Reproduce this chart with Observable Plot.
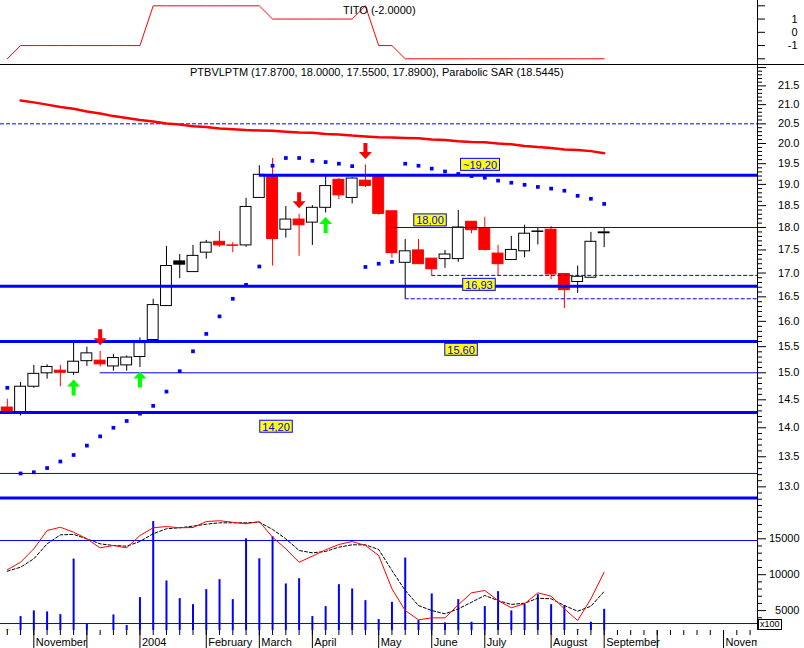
<!DOCTYPE html>
<html>
<head>
<meta charset="utf-8">
<script src="https://cdn.jsdelivr.net/npm/d3@7"></script>
<script src="https://cdn.jsdelivr.net/npm/@observablehq/plot@0.6"></script>
<style>
  html, body { margin: 0; padding: 0; background: #fff; }
  #chart { position: relative; width: 804px; height: 648px; background: #fff; overflow: hidden;
           font-family: "Liberation Sans", Arial, sans-serif; }
  .txt { position: absolute; font-size: 11px; line-height: 13px; white-space: nowrap; color: #000; }
  .sep { position: absolute; left: 0; top: 64px; width: 804px; height: 1px; background: #000; }
  .x100 { position: absolute; left: 758px; top: 619px; font-size: 9px; line-height: 9px;
          border: 1px solid #000; padding: 0 1px; background: #fff; }
</style>
</head>
<body>
<div id="chart"></div>
<script>
// ---------------- DATA (weekly, week 0 = 20 Oct 2003) ----------------
const open  = [14.36,14.28,14.74,14.99,15.04,15.00,15.22,15.23,15.12,15.14,
               15.30,15.63,16.31,17.25,17.02,17.44,17.68,17.60,17.60,18.68,
               19.20,17.95,18.18,18.11,18.45,19.11,18.68,19.09,19.20,18.37,
               17.22,17.49,17.31,17.30,17.30,18.13,17.98,17.42,17.28,17.47,
               17.90,17.95,16.98,16.81,16.90,17.87];
const high  = [14.51,14.82,15.14,15.15,15.14,15.58,15.49,15.41,15.35,15.32,
               15.67,16.45,17.58,17.40,17.60,17.71,17.91,17.66,18.67,19.45,
               19.63,18.48,18.30,18.50,19.20,19.14,19.16,19.47,19.20,18.37,
               17.73,17.73,17.31,17.49,18.39,18.13,18.23,17.60,17.80,18.05,
               18.00,18.02,16.98,17.15,17.89,18.00];
const low   = [14.29,14.21,14.71,14.88,14.74,14.95,15.12,15.11,15.03,15.03,
               15.10,15.62,16.30,16.88,17.02,17.30,17.56,17.44,17.56,18.68,
               17.15,17.76,17.36,17.60,18.33,18.64,18.54,18.92,18.28,17.32,
               16.46,17.19,16.95,17.10,17.23,17.86,17.48,16.94,17.28,17.33,
               17.61,16.86,16.26,16.57,16.90,17.55];
const close = [14.29,14.74,14.98,15.11,15.00,15.21,15.37,15.16,15.28,15.29,
               15.57,16.33,17.15,17.18,17.37,17.66,17.60,17.59,18.47,19.23,
               17.74,18.18,18.05,18.45,18.96,18.74,19.14,18.96,18.31,17.43,
               17.47,17.19,17.08,17.40,18.00,17.94,17.50,17.19,17.50,17.86,
               17.91,16.97,16.64,16.92,17.68,17.89];
const sar   = [14.72,13.22,13.24,13.31,13.42,13.53,13.69,13.85,14.00,14.12,
               14.25,14.39,14.65,15.03,15.41,15.75,16.10,16.46,16.75,17.14,
               19.45,19.64,19.64,19.57,19.54,19.50,19.44,17.13,17.20,17.24,
               19.50,19.45,19.38,19.31,19.25,19.20,19.16,19.09,19.04,18.99,
               18.94,18.90,18.85,18.73,18.66,18.54];
// long moving average, weeks 1..45
const movingAvg = [21.11,21.06,21.00,20.94,20.89,20.82,20.77,20.70,20.65,20.60,
                   20.56,20.51,20.48,20.44,20.42,20.38,20.36,20.34,20.33,20.32,
                   20.30,20.28,20.27,20.24,20.23,20.20,20.18,20.16,20.15,20.14,
                   20.13,20.10,20.09,20.06,20.04,20.03,20.00,19.98,19.94,19.91,
                   19.89,19.85,19.84,19.81,19.76];
const volume = [2360,4170,4960,4820,4440,12180,3150,2240,4400,2920,
                6810,17400,9130,6670,5830,7920,9310,6530,15000,12220,
                15280,8710,9440,4170,5560,8610,8010,6390,3750,6150,
                12320,3610,7320,3290,6530,3380,5560,7640,4960,5880,
                7220,5830,5690,2360,3380,5180];
const stochK = [58.8,64.3,74.0,87.2,89.6,86.0,81.2,74.7,76.4,74.7,
                83.6,89.2,90.1,89.2,89.4,93.7,94.3,93.2,92.1,93.7,
                82.4,74.0,64.3,68.7,73.3,77.1,79.3,76.4,69.2,45.1,
                29.4,22.7,24.1,24.1,33.5,42.2,43.9,36.6,31.4,34.3,
                42.2,39.8,30.6,22.2,37.9,57.1];
const stochD = [57.8,60.7,66.8,77.6,84.1,84.4,81.2,77.6,76.4,75.9,
                79.3,84.9,88.5,89.2,90.4,91.8,92.8,92.8,92.8,93.2,
                88.0,81.2,72.8,71.1,72.1,75.2,76.9,76.9,73.5,58.3,
                43.9,33.0,29.4,27.0,30.6,35.4,40.3,36.6,33.8,34.7,
                38.3,37.9,33.0,28.9,32.5,43.2];
const stochLevels = [80, 20];
const tito = [-2,-1,-1,-1,-1,-1,-1,-1,-1,-1,
              -1, 2, 2, 2, 2, 2, 2, 2, 2, 2,
               1, 1, 1, 1, 1, 1, 1, 2,-1,-1,
              -2,-2,-2,-2,-2,-2,-2,-2,-2,-2,
              -2,-2,-2,-2,-2,-2];
const buyWeeks  = [5, 10, 24];
const sellWeeks = [7, 22, 27];

// horizontal levels: value, first week (null = whole chart), kind
const levelValues = [20.50, 19.22, 18.00, 16.95, 16.72, 16.46, 15.60, 15.00, 14.27, 13.22, 12.82];
const levelStart  = [null,  19,    29,    32,    null,  30,    null,  7,     null,  null,  null];
const levelKind   = ["stop","support","trend","stop","support","stop","support","trend","support","trend","support"];

const labelTexts  = ["~19,20", "18,00", "16,93", "15,60", "14,20"];
const labelWeeks  = [35.64, 31.87, 35.56, 34.21, 20.26];
const labelPrices = [19.46, 18.15, 16.74, 15.43, 14.01];

const priceTicks  = [13.0,13.5,14.0,14.5,15.0,15.5,16.0,16.5,17.0,17.5,18.0,18.5,19.0,19.5,20.0,20.5,21.0,21.5];
const volumeTicks = [5000, 10000, 15000];
const titoTicks   = [-1, 0, 1];
const monthWeeks  = [2, 6, 10, 15, 19, 23, 28, 32, 36, 41, 45, 49, 54];
const monthLabels = ["November", "", "2004", "February", "March", "April", "May", "June", "July", "August", "September", "", "November"];

const titleText = "PTBVLPTM (17.8700, 18.0000, 17.5500, 17.8900), Parabolic SAR (18.5445)";
const titoText  = "TITO (-2.0000)";

// ---------------- CHART ----------------
const BLUE = "#0000ff", RED = "#ff0000", GREEN = "#00ff00", YELLOW = "#ffff00";
const xMin = -0.513, xMax = 56.56;
const W = 804, MR = 47;
const font = { fontFamily: '"Liberation Sans", Arial, sans-serif', fontSize: "11px", maxWidth: "none", background: "transparent", overflow: "visible" };
const chart = document.getElementById("chart");
const weeks = d3.range(open.length);

function place(node, top, width) {
  const d = document.createElement("div");
  d.style.cssText = `position:absolute;left:0;top:${top}px;width:${width || W}px;overflow:hidden;`;
  d.appendChild(node);
  chart.appendChild(d);
  return node;
}

// --- TITO panel
place(Plot.plot({
  width: W, height: 64, marginLeft: 0, marginRight: MR, marginTop: 0, marginBottom: 0,
  x: { domain: [xMin, xMax], axis: null },
  y: { domain: [-2.43, 2.4] },
  style: font,
  marks: [
    Plot.axisY([-2, -1, 0, 1, 2], { anchor: "right", tickSize: 7, tickFormat: () => "", label: null }),
    Plot.axisY(titoTicks, { anchor: "right", tickSize: 0, tickPadding: 40, textAnchor: "end", tickFormat: d => String(d), label: null }),
    Plot.ruleX([xMax], { stroke: "black" }),
    Plot.line(weeks, { x: d => d, y: i => tito[i], stroke: RED, strokeWidth: 1 })
  ]
}), 0);

// --- Price panel
const candles = weeks.map(i => ({ i, o: open[i], h: high[i], l: low[i], c: close[i], prev: i ? close[i - 1] : open[i] }));
const candleColor = d => d.c < d.prev ? RED : "#000000";
const levels = levelValues.map((v, k) => ({ v, start: levelStart[k] ?? xMin, kind: levelKind[k] }));
const ma = movingAvg.map((v, k) => ({ w: k + 1, v }));
const labels = labelTexts.map((t, k) => ({ t, w: labelWeeks[k], p: labelPrices[k] }));
const majorTickVals = d3.range(26, 45).map(v => v / 2);
const minorTickVals = d3.range(126, 221).filter(v => v % 5 !== 0).map(v => v / 10);

const arrowDown = { draw(c) { c.moveTo(-2, -8); c.lineTo(2, -8); c.lineTo(2, 1); c.lineTo(6.5, 1); c.lineTo(0, 8); c.lineTo(-6.5, 1); c.lineTo(-2, 1); c.closePath(); } };
const arrowUp   = { draw(c) { c.moveTo(-2, 8); c.lineTo(2, 8); c.lineTo(2, -1); c.lineTo(6.5, -1); c.lineTo(0, -8); c.lineTo(-6.5, -1); c.lineTo(-2, -1); c.closePath(); } };

const lineStyle = {
  support: { strokeWidth: 3 },
  trend:   { strokeWidth: 1 },
  stop:    { strokeWidth: 1, strokeDasharray: "4,2" }
};

const mainSvg = place(Plot.plot({
  width: W, height: 447, marginLeft: 0, marginRight: MR, marginTop: 0, marginBottom: 0,
  x: { domain: [xMin, xMax], axis: null },
  y: { type: "log", domain: [12.588, 22.057] },
  style: font,
  marks: [
    Plot.axisY(majorTickVals, { anchor: "right", tickSize: 8, tickFormat: () => "", label: null }),
    Plot.axisY(minorTickVals, { anchor: "right", tickSize: 4, tickFormat: () => "", label: null }),
    Plot.axisY(priceTicks, { anchor: "right", tickSize: 0, tickPadding: 42, textAnchor: "end", tickFormat: d => d.toFixed(1), label: null }),
    Plot.ruleX([xMax], { stroke: "black" }),
    // candles
    Plot.ruleX(candles, { x: "i", y1: "l", y2: "h", stroke: candleColor, strokeWidth: 1 }),
    Plot.rect(candles, {
      x1: d => d.i - 0.41, x2: d => d.i + 0.41, y1: "o", y2: "c",
      fill: d => d.c < d.o ? candleColor(d) : "#ffffff", stroke: candleColor, strokeWidth: 1
    }),
    // levels
    ...Object.entries(lineStyle).map(([kind, st]) =>
      Plot.ruleY(levels.filter(d => d.kind === kind), { y: "v", x1: "start", x2: () => xMax, stroke: BLUE, ...st })),
    // moving average
    Plot.line(ma, { x: "w", y: "v", stroke: RED, strokeWidth: 2.5 }),
    // parabolic SAR
    Plot.dot(weeks, { x: d => d, y: i => sar[i], symbol: "square", r: 2.1, fill: BLUE, stroke: "none" }),
    // signals
    Plot.dot(sellWeeks, { x: d => d, y: d => high[d], dy: -14, symbol: arrowDown, fill: RED, stroke: "none" }),
    Plot.dot(buyWeeks, { x: d => d, y: d => low[d], dy: 12, symbol: arrowUp, fill: GREEN, stroke: "none" }),
    // level labels
    Plot.text(labels, { x: "w", y: "p", text: "t", fill: BLUE, fontSize: 11, textAnchor: "middle", lineAnchor: "middle" })
  ]
}), 65);

// yellow boxes behind the level labels
d3.select(mainSvg).selectAll("text")
  .filter(function () { return labelTexts.includes(this.textContent); })
  .each(function () {
    const b = this.getBBox();
    const r = document.createElementNS("http://www.w3.org/2000/svg", "rect");
    const tr = this.getAttribute("transform");
    if (tr) r.setAttribute("transform", tr);
    r.setAttribute("x", b.x - 2.5);
    r.setAttribute("y", b.y - 0.5);
    r.setAttribute("width", b.width + 5);
    r.setAttribute("height", b.height);
    r.setAttribute("fill", YELLOW);
    r.setAttribute("stroke", BLUE);
    r.setAttribute("stroke-width", 1);
    this.parentNode.insertBefore(r, this);
  });

// --- Volume panel
const vMin = 2228;
const volMinor = d3.range(3000, 18001, 1000).filter(v => v % 5000 !== 0);
place(Plot.plot({
  width: W, height: 118, marginLeft: 0, marginRight: MR, marginTop: 0, marginBottom: 0,
  x: { domain: [xMin, xMax], axis: null },
  y: { domain: [vMin, 18663] },
  style: font,
  marks: [
    Plot.axisY(volumeTicks, { anchor: "right", tickSize: 8, tickPadding: 34, textAnchor: "end", tickFormat: d => String(d), label: null }),
    Plot.axisY(volMinor, { anchor: "right", tickSize: 4, tickFormat: () => "", label: null }),
    Plot.ruleX([xMax], { stroke: "black" }),
    Plot.ruleX(weeks, { x: d => d, y1: vMin, y2: i => volume[i], stroke: BLUE, strokeWidth: 2 })
  ]
}), 512);

// --- Stochastic overlay
place(Plot.plot({
  width: W, height: 118, marginLeft: 0, marginRight: MR, marginTop: 0, marginBottom: 0,
  x: { domain: [xMin, xMax], axis: null },
  y: { domain: [14.96, 100.25], axis: null },
  style: font,
  marks: [
    Plot.ruleY(stochLevels, { stroke: BLUE, strokeWidth: 1 }),
    Plot.line(weeks, { x: d => d, y: i => stochD[i], stroke: "black", strokeWidth: 1, strokeDasharray: "3,2" }),
    Plot.line(weeks, { x: d => d, y: i => stochK[i], stroke: RED, strokeWidth: 1 })
  ]
}), 512);

// --- Time axis
place(Plot.plot({
  width: W, height: 19, marginLeft: 0, marginRight: MR, marginTop: 0, marginBottom: 18,
  x: { domain: [xMin, xMax] },
  style: font,
  marks: [
    Plot.axisX(d3.range(0, 57), { anchor: "bottom", tickSize: 5, tickFormat: () => "", label: null }),
    Plot.axisX(monthWeeks, { anchor: "bottom", tickSize: 18, tickFormat: () => "", label: null }),
    Plot.text(monthWeeks, { x: d => d, text: (d, i) => monthLabels[i], frameAnchor: "bottom", textAnchor: "start", lineAnchor: "middle", dx: 2, dy: 12, fill: "black" })
  ]
}), 629, 757);

// --- separator, titles, unit box
const sep = document.createElement("div"); sep.className = "sep"; chart.appendChild(sep);
function addText(text, left, top, cls) {
  const s = document.createElement("div"); s.className = cls || "txt";
  s.style.left = left + "px"; s.style.top = top + "px"; s.textContent = text; chart.appendChild(s);
}
addText(titoText, 343, 4);
addText(titleText, 190, 66);
addText("x100", 758, 619, "x100");
</script>
</body>
</html>
